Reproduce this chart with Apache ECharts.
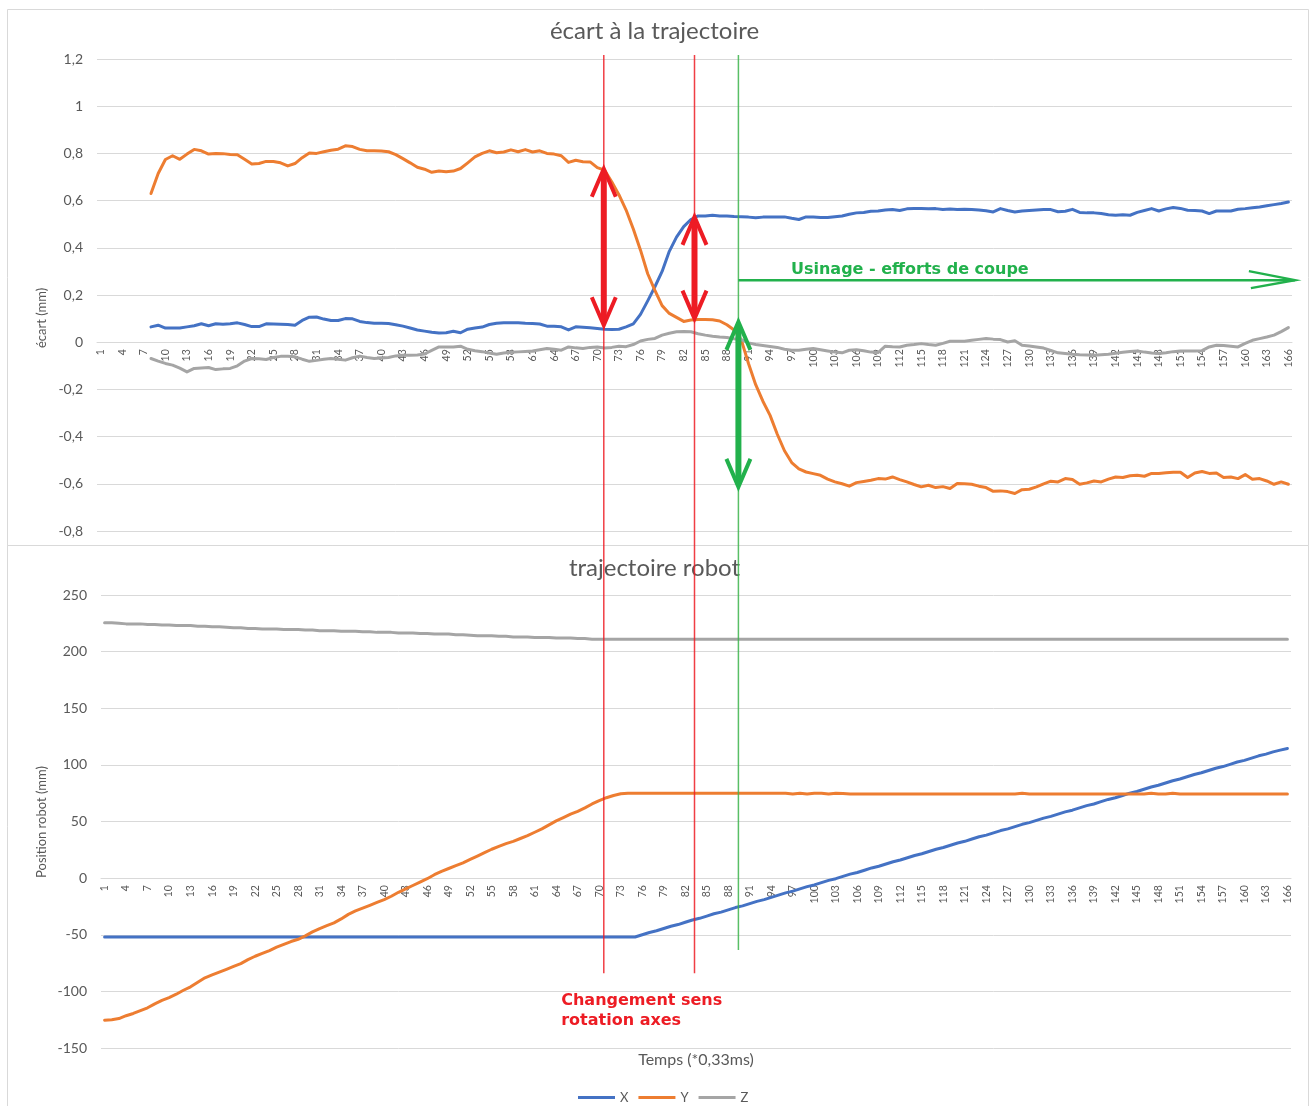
<!DOCTYPE html>
<html lang="fr">
<head>
    <title>écart à la trajectoire</title>
    <meta charset="utf-8" />
    <script src="https://cdn.jsdelivr.net/npm/echarts@6.0.0/dist/echarts.min.js"></script>
    <style>
        html, body {
            margin: 0;
            padding: 0;
            background-color: #fff;
        }
        #main {
            width: 1309px;
            height: 1106px;
        }
    </style>
</head>
<body>
<div id="main"></div>
<script>
    // temps (*0,33ms) : 1 .. 166
    let temps = Array.from({length: 166}, (_, i) => String(i + 1))

    // écart à la trajectoire (mm)
    let ecartX = [
        null, null, null, null, null, null, null, 0.065, 0.072, 0.06,
        0.06, 0.06, 0.065, 0.07, 0.078, 0.07, 0.078, 0.076, 0.078, 0.082,
        0.075, 0.066, 0.066, 0.078, 0.077, 0.076, 0.075, 0.072, 0.092, 0.106,
        0.107, 0.098, 0.092, 0.092, 0.1, 0.099, 0.088, 0.083, 0.08, 0.08,
        0.079, 0.074, 0.068, 0.06, 0.052, 0.047, 0.042, 0.039, 0.04, 0.046,
        0.04, 0.055, 0.06, 0.064, 0.075, 0.08, 0.082, 0.082, 0.082, 0.08,
        0.079, 0.077, 0.068, 0.068, 0.065, 0.052, 0.065, 0.063, 0.061, 0.058,
        0.055, 0.054, 0.055, 0.065, 0.078, 0.118, 0.175, 0.235, 0.3, 0.385,
        0.445, 0.49, 0.52, 0.535, 0.535, 0.538, 0.535, 0.535, 0.533, 0.532,
        0.53, 0.527, 0.53, 0.531, 0.53, 0.531, 0.525, 0.52, 0.531, 0.53,
        0.528, 0.528, 0.532, 0.535, 0.542, 0.548, 0.55, 0.555, 0.556, 0.56,
        0.562, 0.558, 0.565, 0.566, 0.566, 0.565, 0.566, 0.562, 0.564, 0.562,
        0.563, 0.562, 0.56, 0.557, 0.552, 0.566, 0.558, 0.552, 0.556, 0.558,
        0.56, 0.562, 0.562, 0.553, 0.555, 0.563, 0.55, 0.548, 0.548, 0.545,
        0.54, 0.538, 0.54, 0.538, 0.55, 0.558, 0.566, 0.556, 0.565, 0.571,
        0.567, 0.559, 0.558, 0.556, 0.545, 0.556, 0.556, 0.556, 0.563, 0.566,
        0.57, 0.573, 0.578, 0.583, 0.588, 0.594
    ]
    let ecartY = [
        null, null, null, null, null, null, null, 0.63, 0.715, 0.774,
        0.79, 0.775, 0.797, 0.817, 0.811, 0.797, 0.8, 0.799, 0.795, 0.794,
        0.775, 0.755, 0.757, 0.766, 0.766, 0.76, 0.747, 0.757, 0.782, 0.802,
        0.8, 0.807, 0.813, 0.818, 0.832, 0.829, 0.817, 0.811, 0.811, 0.81,
        0.807, 0.795, 0.778, 0.76, 0.741, 0.733, 0.72, 0.725, 0.722, 0.725,
        0.736, 0.76, 0.785, 0.8, 0.811, 0.803, 0.806, 0.815, 0.807, 0.816,
        0.806, 0.811, 0.8, 0.797, 0.79, 0.762, 0.771, 0.765, 0.764, 0.74,
        0.729, 0.68, 0.625, 0.56, 0.48, 0.39, 0.29, 0.22, 0.155, 0.122,
        0.105, 0.088, 0.094, 0.096, 0.096, 0.095, 0.09, 0.074, 0.052, 0.01,
        -0.09, -0.18, -0.25, -0.31, -0.39, -0.46, -0.51, -0.537, -0.55, -0.557,
        -0.564, -0.58, -0.592, -0.6, -0.61, -0.595, -0.59, -0.585, -0.578, -0.58,
        -0.571, -0.582, -0.592, -0.603, -0.613, -0.606, -0.616, -0.612, -0.62, -0.599,
        -0.6, -0.602, -0.61, -0.616, -0.632, -0.63, -0.633, -0.641, -0.625, -0.623,
        -0.613, -0.6, -0.589, -0.592, -0.578, -0.582, -0.602, -0.596, -0.588, -0.592,
        -0.58, -0.571, -0.573, -0.566, -0.564, -0.568, -0.556, -0.556, -0.553, -0.551,
        -0.551, -0.573, -0.554, -0.548, -0.556, -0.554, -0.573, -0.571, -0.578, -0.561,
        -0.581, -0.578, -0.588, -0.602, -0.592, -0.602
    ]
    let ecartZ = [
        null, null, null, null, null, null, null, -0.069, -0.08, -0.09,
        -0.097, -0.11, -0.126, -0.111, -0.109, -0.107, -0.116, -0.113, -0.111, -0.1,
        -0.08, -0.069, -0.07, -0.073, -0.065, -0.06, -0.06, -0.062, -0.072, -0.081,
        -0.077, -0.072, -0.069, -0.072, -0.076, -0.066, -0.059, -0.065, -0.069, -0.067,
        -0.065, -0.058, -0.055, -0.055, -0.054, -0.05, -0.035, -0.02, -0.02, -0.02,
        -0.017, -0.03, -0.036, -0.04, -0.046, -0.051, -0.046, -0.043, -0.041, -0.039,
        -0.037, -0.032, -0.027, -0.03, -0.034, -0.02, -0.024, -0.027, -0.022, -0.02,
        -0.025, -0.022, -0.017, -0.019, -0.01, 0.005, 0.012, 0.016, 0.03, 0.038,
        0.044, 0.045, 0.044, 0.036, 0.03, 0.025, 0.022, 0.02, 0.015, 0.011,
        -0.003, -0.01, -0.014, -0.018, -0.022, -0.03, -0.034, -0.034, -0.03, -0.027,
        -0.032, -0.037, -0.042, -0.045, -0.034, -0.032, -0.036, -0.042, -0.044, -0.017,
        -0.019, -0.02, -0.013, -0.01, -0.006, -0.01, -0.013, -0.005, 0.004, 0.004,
        0.004, 0.008, 0.012, 0.016, 0.013, 0.011, 0.001, 0.006, -0.013, -0.016,
        -0.02, -0.025, -0.035, -0.045, -0.048, -0.051, -0.053, -0.054, -0.055, -0.053,
        -0.051, -0.047, -0.043, -0.039, -0.037, -0.042, -0.046, -0.048, -0.045, -0.04,
        -0.037, -0.037, -0.037, -0.036, -0.02, -0.013, -0.014, -0.017, -0.02, -0.005,
        0.008, 0.015, 0.022, 0.03, 0.045, 0.062
    ]

    // trajectoire robot, position (mm)
    let posX = [
        -52, -52, -52, -52, -52, -52, -52, -52, -52, -52,
        -52, -52, -52, -52, -52, -52, -52, -52, -52, -52,
        -52, -52, -52, -52, -52, -52, -52, -52, -52, -52,
        -52, -52, -52, -52, -52, -52, -52, -52, -52, -52,
        -52, -52, -52, -52, -52, -52, -52, -52, -52, -52,
        -52, -52, -52, -52, -52, -52, -52, -52, -52, -52,
        -52, -52, -52, -52, -52, -52, -52, -52, -52, -52,
        -52, -52, -52, -52, -52, -50, -48, -46.5, -44.5, -42.5,
        -41, -39, -37, -35.5, -33.5, -31.5, -30, -28, -26, -24.5,
        -22.5, -20.5, -19, -17, -15, -13, -11.5, -9.5, -7.5, -6,
        -4, -2, -0.5, 1.5, 3.5, 5, 7, 9, 10.5, 12.5,
        14.5, 16, 18, 20, 21.5, 23.5, 25.5, 27, 29, 31,
        32.5, 34.5, 36.5, 38, 40, 42, 43.5, 45.5, 47.5, 49,
        51, 53, 54.5, 56.5, 58.5, 60, 62, 64, 65.5, 67.5,
        69.5, 71, 73, 75, 76.5, 78.5, 80.5, 82, 84, 86,
        87.5, 89.5, 91.5, 93, 95, 97, 98.5, 100.5, 102.5, 104,
        106, 108, 109.5, 111.5, 113, 114.5
    ]
    let posY = [
        -125.4, -125, -124, -121.5, -119.5, -117, -114.5, -111, -108, -105.5,
        -102.5, -99, -96, -92, -88, -85.5, -83, -80.5, -78, -75.5,
        -72, -69, -66.5, -64, -61, -58.5, -56, -54, -51, -47.5,
        -44.5, -42, -39.5, -36, -32, -29, -26.5, -24, -21.5, -19,
        -16, -12.5, -9.5, -6.5, -3.5, -0.5, 3, 6, 8.5, 11,
        13.5, 16.5, 19.5, 22.5, 25.5, 28, 30.5, 32.5, 35, 37.5,
        40.5, 43.5, 47, 50.5, 53.5, 56.5, 59, 62, 65.5, 68.5,
        71, 73, 74.5, 75, 75, 75, 75, 75, 75, 75,
        75, 75, 75, 75, 75, 75, 75, 75, 75, 75,
        75, 75, 75, 75, 75, 75, 74.3, 75, 74.3, 75,
        75, 74.3, 75, 74.8, 74.3, 74.3, 74.3, 74.3, 74.3, 74.3,
        74.3, 74.3, 74.3, 74.3, 74.3, 74.3, 74.3, 74.3, 74.3, 74.3,
        74.3, 74.3, 74.3, 74.3, 74.3, 74.3, 74.3, 74.3, 75, 74.3,
        74.3, 74.3, 74.3, 74.3, 74.3, 74.3, 74.3, 74.3, 74.3, 74.3,
        74.3, 74.3, 74.3, 74.3, 74.3, 74.3, 75, 74.3, 74.3, 75,
        74.3, 74.3, 74.3, 74.3, 74.3, 74.3, 74.3, 74.3, 74.3, 74.3,
        74.3, 74.3, 74.3, 74.3, 74.3, 74.3
    ]
    let posZ = [
        225.5, 225.5, 225, 224.5, 224.5, 224.5, 224, 224, 223.5, 223.5,
        223, 223, 223, 222.5, 222.5, 222, 222, 221.5, 221, 221,
        220.5, 220.5, 220, 220, 220, 219.5, 219.5, 219.5, 219, 219,
        218.5, 218.5, 218.5, 218, 218, 218, 217.5, 217.5, 217, 217,
        217, 216.5, 216.5, 216.5, 216, 216, 215.5, 215.5, 215.5, 215,
        215, 214.5, 214, 214, 214, 213.5, 213.5, 213, 213, 213,
        212.5, 212.5, 212.5, 212, 212, 212, 211.5, 211.5, 211, 211,
        211, 211, 211, 211, 211, 211, 211, 211, 211, 211,
        211, 211, 211, 211, 211, 211, 211, 211, 211, 211,
        211, 211, 211, 211, 211, 211, 211, 211, 211, 211,
        211, 211, 211, 211, 211, 211, 211, 211, 211, 211,
        211, 211, 211, 211, 211, 211, 211, 211, 211, 211,
        211, 211, 211, 211, 211, 211, 211, 211, 211, 211,
        211, 211, 211, 211, 211, 211, 211, 211, 211, 211,
        211, 211, 211, 211, 211, 211, 211, 211, 211, 211,
        211, 211, 211, 211, 211, 211, 211, 211, 211, 211,
        211, 211, 211, 211, 211, 211
    ]

    let colors = ['#4472C4', '#ED7D31', '#A5A5A5']
    let textColor = '#595959'
    let gridColor = '#D9D9D9'
    let font = 'Lato, "Open Sans", sans-serif'

    function valueAxis(gridIndex, min, max, interval, formatter) {
        return {
            type: 'value',
            gridIndex: gridIndex,
            min: min,
            max: max,
            interval: interval,
            axisLine: {show: false},
            axisTick: {show: false},
            splitLine: {lineStyle: {color: gridColor, width: 1}},
            axisLabel: {color: textColor, fontSize: 14, fontFamily: font, margin: 14, formatter: formatter}
        }
    }

    function categoryAxis(gridIndex) {
        return {
            type: 'category',
            gridIndex: gridIndex,
            data: temps,
            boundaryGap: true,
            axisLine: {onZero: false, lineStyle: {color: gridColor, width: 1}},
            axisTick: {show: false},
            splitLine: {show: false},
            axisLabel: {rotate: 90, interval: 2, color: textColor, fontSize: 10.5, fontFamily: font, margin: 7}
        }
    }

    function lineSeries(name, idx, gridIndex, data) {
        return {
            name: name,
            type: 'line',
            xAxisIndex: gridIndex,
            yAxisIndex: gridIndex,
            data: data,
            showSymbol: false,
            smooth: false,
            color: colors[idx],
            lineStyle: {width: 3, color: colors[idx], cap: 'round', join: 'round'},
            emphasis: {disabled: true}
        }
    }

    let chart = echarts.init(document.getElementById('main'), null, {renderer: 'canvas'})

    let option = {
        animation: false,
        backgroundColor: '#fff',
        textStyle: {fontFamily: font},
        title: [
            {text: 'écart à la trajectoire', left: 'center', top: 14,
                textStyle: {color: textColor, fontSize: 24, fontWeight: 'normal', fontFamily: font}},
            {text: 'trajectoire robot', left: 'center', top: 551,
                textStyle: {color: textColor, fontSize: 24, fontWeight: 'normal', fontFamily: font}}
        ],
        legend: {
            data: ['X', 'Y', 'Z'],
            top: 1086,
            left: 573,
            icon: 'rect',
            itemWidth: 37,
            itemHeight: 3,
            itemGap: 10,
            textStyle: {color: textColor, fontSize: 13, fontFamily: font}
        },
        grid: [
            {left: 97, right: 17, top: 59, height: 472, containLabel: false, outerBoundsMode: 'none'},
            {left: 101, right: 18, top: 595, height: 453, containLabel: false, outerBoundsMode: 'none'}
        ],
        xAxis: [categoryAxis(0), categoryAxis(1)],
        yAxis: [
            valueAxis(0, -0.8, 1.2, 0.2, v => String(Math.round(v * 10) / 10).replace('.', ',')),
            valueAxis(1, -150, 250, 50, v => String(v))
        ],
        series: [
            lineSeries('X', 0, 0, ecartX),
            lineSeries('Y', 1, 0, ecartY),
            lineSeries('Z', 2, 0, ecartZ),
            lineSeries('X', 0, 1, posX),
            lineSeries('Y', 1, 1, posY),
            lineSeries('Z', 2, 1, posZ)
        ]
    }

    chart.setOption(option)

    // pixel helpers on the chart's own scales (k = 1-based time step, may be fractional)
    function px(gridIndex, k, v) {
        let a = chart.convertToPixel({gridIndex: gridIndex}, [0, v])
        let b = chart.convertToPixel({gridIndex: gridIndex}, [1, v])
        return [a[0] + (k - 1) * (b[0] - a[0]), a[1]]
    }

    // the time axis sits on the zero line, as in the spreadsheet
    let zeroShift = [
        px(0, 1, 0)[1] - px(0, 1, -0.8)[1],
        px(1, 1, 0)[1] - px(1, 1, -150)[1]
    ]

    let red = '#ED1C24'
    let green = '#22B14C'
    let graphics = []

    function frame(y, h) {
        graphics.push({type: 'rect', silent: true, z: 1,
            shape: {x: 7.5, y: y, width: 1301, height: h},
            style: {fill: null, stroke: gridColor, lineWidth: 1}})
    }
    frame(9.5, 536)
    frame(545.5, 580)

    function seg(p1, p2, color, width, opacity) {
        graphics.push({type: 'line', silent: true, z: 100,
            shape: {x1: p1[0], y1: p1[1], x2: p2[0], y2: p2[1]},
            style: {stroke: color, lineWidth: width, opacity: opacity || 1}})
    }

    function vHead(tip, dir, color, width) {
        // dir = +1: pointing up (arms go down), -1: pointing down
        graphics.push({type: 'polyline', silent: true, z: 101,
            shape: {points: [[tip[0] - 12, tip[1] + dir * 28], tip, [tip[0] + 12, tip[1] + dir * 28]]},
            style: {stroke: color, lineWidth: width, fill: null}})
    }

    function doubleArrow(gridIndex, k, vTop, vBottom, color) {
        let t = px(gridIndex, k, vTop)
        let b = px(gridIndex, k, vBottom)
        seg([t[0], t[1] + 4], [b[0], b[1] - 4], color, 6)
        vHead(t, 1, color, 4)
        vHead(b, -1, color, 4)
    }

    // vertical reference lines spanning both charts
    function refLine(k, vBottom, color) {
        let t = px(0, k, 1.217)
        let b = px(1, k, vBottom)
        seg([t[0], t[1]], [t[0], b[1]], color, 1.5, 0.85)
    }
    refLine(70.9, -84, red)
    refLine(83.5, -84, red)
    refLine(89.6, -63.5, '#3CB44B')

    doubleArrow(0, 70.9, 0.735, 0.072, red)
    doubleArrow(0, 83.5, 0.531, 0.1, red)
    doubleArrow(0, 89.6, 0.086, -0.613, green)

    // horizontal arrow "usinage"
    let hs = px(0, 89.6, 0.263)
    let he = px(0, 166.9, 0.263)
    seg(hs, he, green, 2.5)
    graphics.push({type: 'polyline', silent: true, z: 101,
        shape: {points: [[he[0] - 46, he[1] - 9], he, [he[0] - 44, he[1] + 8]]},
        style: {stroke: green, lineWidth: 2.5, fill: null}})

    function label(p, text, color, size, bold, align, rotate, lineHeight) {
        graphics.push({type: 'text', silent: true, z: 102,
            x: p[0], y: p[1], rotation: rotate || 0,
            style: {text: text, fill: color,
                font: (bold ? 'bold ' : '') + size + 'px ' + (bold ? '"DejaVu Sans", Verdana, sans-serif' : font),
                align: align, verticalAlign: 'middle', textAlign: align, textVerticalAlign: 'middle',
                lineHeight: lineHeight || size}})
    }

    let lt = px(0, 96.9, 0.305)
    label(lt, 'Usinage - efforts de coupe', green, 16, true, 'left')
    let rt = px(1, 64.7, -117.5)
    label(rt, 'Changement sens\nrotation axes', red, 16, true, 'left', 0, 20)

    // axis titles
    label([42, 318], 'écart (mm)', textColor, 13, false, 'center', Math.PI / 2)
    label([42, 822], 'Position robot (mm)', textColor, 13, false, 'center', Math.PI / 2)
    label([696, 1060], 'Temps (*0,33ms)', textColor, 16, false, 'center')

    chart.setOption({
        xAxis: [{offset: zeroShift[0]}, {offset: zeroShift[1]}],
        graphic: graphics
    })
</script>
</body>
</html>
